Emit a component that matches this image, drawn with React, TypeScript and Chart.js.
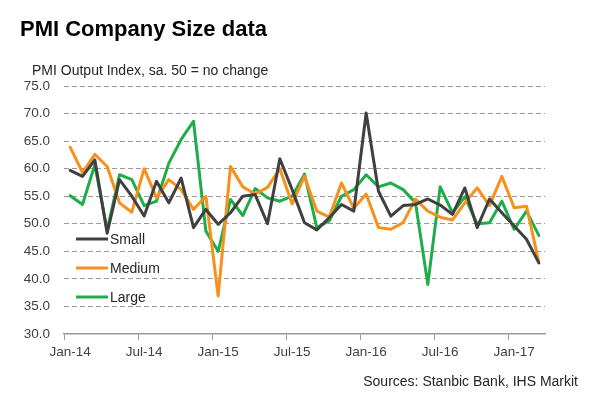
import React, { useEffect, useRef } from "react";
import { Chart, registerables } from "chart.js";

Chart.register(...registerables);

const months: string[] = [
  "Jan-14", "Feb-14", "Mar-14", "Apr-14", "May-14", "Jun-14", "Jul-14", "Aug-14", "Sep-14", "Oct-14", "Nov-14", "Dec-14",
  "Jan-15", "Feb-15", "Mar-15", "Apr-15", "May-15", "Jun-15", "Jul-15", "Aug-15", "Sep-15", "Oct-15", "Nov-15", "Dec-15",
  "Jan-16", "Feb-16", "Mar-16", "Apr-16", "May-16", "Jun-16", "Jul-16", "Aug-16", "Sep-16", "Oct-16", "Nov-16", "Dec-16",
  "Jan-17", "Feb-17", "Mar-17",
];

const small: number[] = [
  59.7, 58.6, 61.6, 48.3, 58.0, 55.0, 51.4, 57.7, 53.8, 58.3, 49.3, 52.6,
  49.9, 52.0, 55.0, 55.3, 50.0, 61.8, 56.2, 50.2, 48.9, 51.1, 53.5, 52.3,
  70.1, 55.9, 51.4, 53.3, 53.5, 54.5, 53.4, 51.7, 56.5, 49.3, 54.5, 52.0,
  49.6, 47.2, 42.9,
];

const medium: number[] = [
  63.9, 59.3, 62.6, 60.4, 53.8, 52.1, 60.0, 54.7, 58.0, 56.2, 52.6, 55.0,
  36.9, 60.4, 56.7, 55.4, 56.6, 60.0, 53.6, 58.6, 52.3, 51.2, 57.4, 52.8,
  55.4, 49.3, 49.0, 50.2, 54.5, 52.3, 51.2, 50.7, 53.8, 56.5, 53.3, 58.6,
  52.9, 53.2, 43.0,
];

const large: number[] = [
  55.1, 53.5, 60.7, 48.8, 58.9, 58.0, 53.3, 54.1, 61.0, 65.3, 68.6, 48.7,
  45.0, 54.4, 51.5, 56.4, 54.7, 54.1, 55.0, 59.0, 49.3, 50.5, 55.0, 56.2,
  58.9, 56.7, 57.4, 56.2, 53.8, 39.0, 56.7, 52.0, 54.9, 50.0, 50.2, 54.1,
  49.0, 52.3, 47.9,
];

const seriesNames = ["Small", "Medium", "Large"];
const seriesColors = ["#404040", "#F8901C", "#1EAD48"];

const titleText = "PMI Company Size data";
const subtitleText = "PMI Output Index, sa. 50 = no change";
const sourceText = "Sources: Stanbic Bank, IHS Markit";

const FONT = "'Liberation Sans', Arial, sans-serif";
const TEXT = "#404040";

const decorPlugin = {
  id: "decor",
  afterDraw(chart: any) {
    const ctx = chart.ctx as CanvasRenderingContext2D;
    ctx.save();
    ctx.textBaseline = "alphabetic";
    ctx.fillStyle = "#000000";
    ctx.textAlign = "left";
    ctx.font = `bold 22px ${FONT}`;
    ctx.fillText(titleText, 20, 36);
    ctx.fillStyle = "#262626";
    ctx.font = `14px ${FONT}`;
    ctx.fillText(subtitleText, 32, 75);
    ctx.textAlign = "right";
    ctx.fillText(sourceText, 578, 386);

    const ys = [239, 268, 297];
    chart.data.datasets.forEach((ds: any, i: number) => {
      const y = ys[i];
      ctx.strokeStyle = ds.borderColor;
      ctx.lineWidth = 3;
      ctx.beginPath();
      ctx.moveTo(76, y);
      ctx.lineTo(108, y);
      ctx.stroke();
      ctx.fillStyle = "#262626";
      ctx.textAlign = "left";
      ctx.textBaseline = "middle";
      ctx.font = `14px ${FONT}`;
      ctx.fillText(ds.label, 110, y + 1);
    });
    ctx.restore();
  },
};

export default function App() {
  const ref = useRef<HTMLCanvasElement | null>(null);

  useEffect(() => {
    document.body.style.margin = "0";
    const canvas = ref.current;
    if (!canvas) return;
    const values = [small, medium, large];
    const chart = new Chart(canvas, {
      type: "line",
      data: {
        labels: months,
        datasets: values.map((v, i) => ({
          label: seriesNames[i],
          data: v,
          borderColor: seriesColors[i],
          backgroundColor: seriesColors[i],
          borderWidth: 3,
          borderJoinStyle: "round" as const,
          borderCapStyle: "round" as const,
          pointRadius: 0,
          tension: 0,
          fill: false,
        })),
      },
      options: {
        responsive: false,
        animation: false,
        layout: { padding: { top: 86, right: 45, bottom: 0, left: 0 } },
        plugins: {
          legend: { display: false },
          tooltip: { enabled: false },
          title: { display: false },
        },
        scales: {
          x: {
            type: "category",
            offset: true,
            afterFit: (scale: any) => {
              scale.height = 73;
            },
            grid: {
              offset: true,
              drawOnChartArea: false,
              drawTicks: true,
              tickLength: 6,
              tickWidth: 1,
              tickColor: (c: any) =>
                c.index !== undefined && c.index % 6 === 0 ? "#9a9a9a" : "rgba(0,0,0,0)",
            },
            border: { display: true, color: "#9a9a9a", width: 1.5 },
            ticks: {
              autoSkip: false,
              maxRotation: 0,
              minRotation: 0,
              padding: 4,
              color: TEXT,
              font: { family: FONT, size: 13.5 },
              callback: (_v: any, idx: number) => (idx % 6 === 0 ? months[idx] : ""),
            },
          },
          y: {
            min: 30,
            max: 75,
            afterFit: (scale: any) => {
              scale.width = 64;
            },
            grid: {
              drawTicks: false,
              color: (c: any) =>
                c.tick && c.tick.value === 30 ? "rgba(0,0,0,0)" : "#9a9a9a",
              lineWidth: 1,
            },
            border: { display: false, dash: [5, 3] },
            ticks: {
              stepSize: 5,
              padding: 14,
              color: TEXT,
              font: { family: FONT, size: 13.5 },
              callback: (v: any) => Number(v).toFixed(1),
            },
          },
        },
      },
      plugins: [decorPlugin],
    });
    return () => chart.destroy();
  }, []);

  return (
    <div style={{ width: 590, height: 407, background: "#ffffff" }}>
      <canvas ref={ref} width={590} height={407} />
    </div>
  );
}
